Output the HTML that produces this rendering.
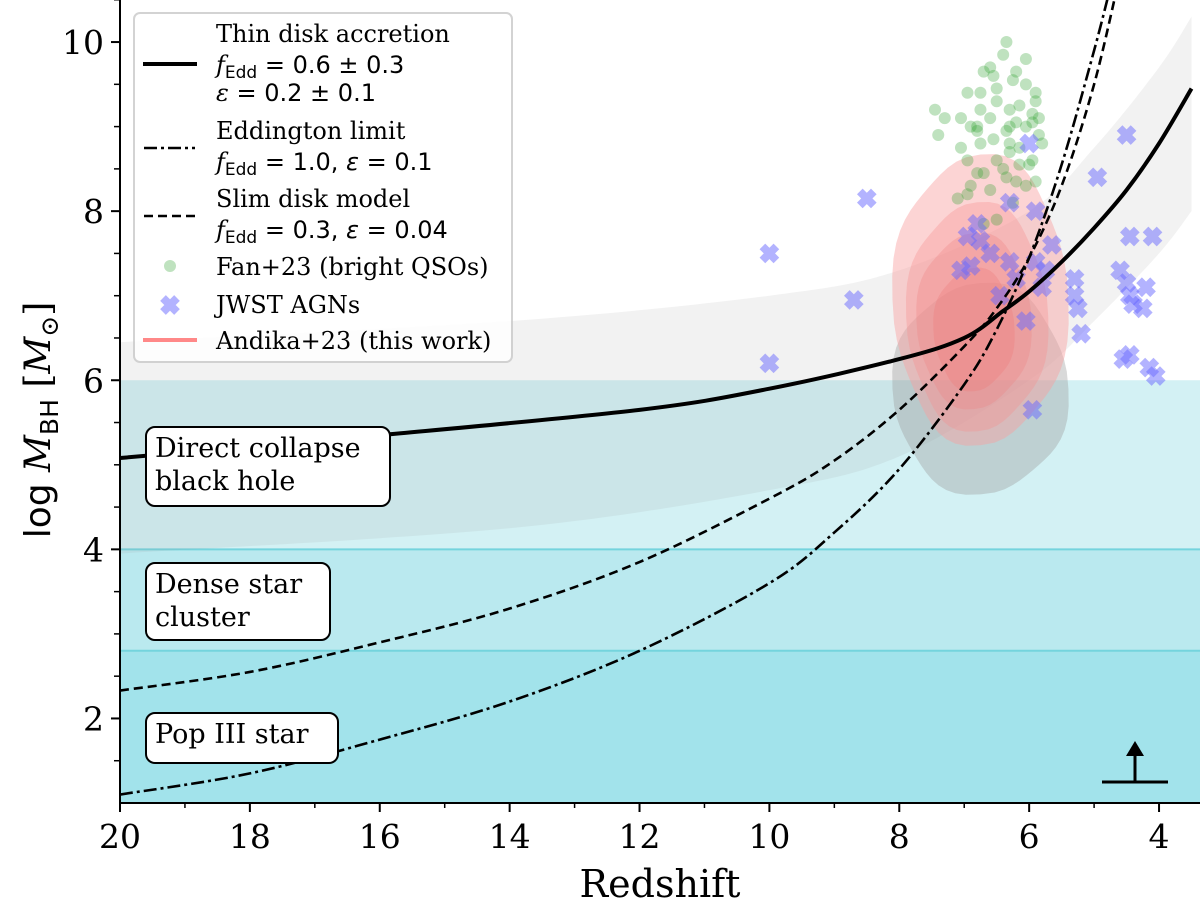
<!DOCTYPE html>
<html><head><meta charset="utf-8"><style>
body{margin:0;background:#fff;}
svg text{font-family:"DejaVu Serif","Liberation Serif",serif;}
</style></head><body>
<svg id="chart" width="1200" height="914" xmlns="http://www.w3.org/2000/svg">
<defs><clipPath id="clip"><rect x="120" y="0" width="1080" height="803"/></clipPath></defs>
<g id="plot" clip-path="url(#clip)"></g>
<g id="axes"></g>
</svg>
<script>
const NS="http://www.w3.org/2000/svg";
const xTicks=[20,18,16,14,12,10,8,6,4];
const yTicks=[2,4,6,8,10];
const thinZ=[20,16,12,10,8,7,6.4,6,5.5,5,4.5,4,3.5];
const thinM=[5.08,5.35,5.65,5.9,6.25,6.5,6.82,7.05,7.4,7.8,8.25,8.8,9.45];
const eddZ=[20,18,16,14,12,10,9,8,7,6.5,6,5.5,5,4.7];
const eddM=[1.1,1.35,1.75,2.2,2.8,3.6,4.2,4.95,5.95,6.6,7.45,8.55,9.9,10.8];
const slimZ=[20,18,16,14,12,10,9,8,7,6.5,6,5.5,5,4.6];
const slimM=[2.33,2.55,2.9,3.3,3.85,4.6,5.05,5.65,6.4,6.85,7.45,8.3,9.5,10.8];
const bandZ=[20,14,10,8,6,5,4,3.5];
const bandHi=[6.45,6.7,7.0,7.3,8.0,8.75,9.7,10.3];
const bandLo=[3.95,4.25,4.7,5.1,6.0,6.7,7.5,8.0];
const fanZ=[6.35,6.05,6.55,6.25,5.9,6.75,6.5,6.15,6.3,5.95,6.6,6.8,6.9,6.35,6.2,6.05,6.55,5.85,5.8,6.75,7.05,6.95,6.5,6.3,6.15,5.95,6.7,6.8,6.4,6.2,6.05,6.6,5.9,6.95,7.1,7.45,7.3,7.4,7.05,6.95,6.4,6.2,6.05,6.7,6.5,5.9,6.75,6.3,6.15,5.95,6.6,6.8,6.35,6.9,6.25,6.7,6.5,6.0,6.3,5.85];
const fanM=[10.0,9.8,9.6,9.55,9.4,9.4,9.3,9.25,9.2,9.15,9.1,9.0,9.0,8.95,9.05,9.0,8.85,8.9,8.8,8.8,8.75,8.6,8.6,8.7,8.55,8.6,8.45,8.45,8.5,8.35,8.3,8.25,8.35,8.2,8.15,9.2,9.1,8.9,9.1,9.4,9.85,9.65,9.5,9.65,9.45,9.3,9.2,9.0,8.75,9.05,9.7,8.95,8.4,8.3,8.1,7.85,7.9,8.55,8.8,9.1];
const jwZ=[10.0,10.0,8.7,8.5,7.05,6.95,6.8,6.75,6.6,6.3,6.2,6.0,6.3,6.05,5.9,5.75,5.65,5.9,5.8,5.95,5.3,5.3,5.25,5.2,4.95,4.5,4.45,4.1,4.6,4.5,4.45,4.4,4.2,4.25,4.55,4.45,4.15,4.05,6.9,6.45];
const jwM=[7.5,6.2,6.95,8.15,7.3,7.7,7.85,7.65,7.5,7.4,7.2,8.8,8.1,6.7,7.4,7.3,7.6,8.0,7.1,5.65,7.2,7.0,6.85,6.55,8.4,8.9,7.7,7.7,7.3,7.15,7.0,6.9,7.1,6.85,6.25,6.3,6.15,6.05,7.35,7.0];
const X=z=>120+(20-z)*64.94;
const Y=m=>803-(m-1)*84.55;
const plot=document.getElementById('plot'),axes=document.getElementById('axes');
function mk(tag,attrs,parent){const e=document.createElementNS(NS,tag);for(const k in attrs)e.setAttribute(k,attrs[k]);(parent||plot).appendChild(e);return e;}
function smooth(pts,start){let d=start?'M'+pts[0][0]+','+pts[0][1]:'L'+pts[0][0]+','+pts[0][1];for(let i=0;i<pts.length-1;i++){const p0=pts[Math.max(i-1,0)],p1=pts[i],p2=pts[i+1],p3=pts[Math.min(i+2,pts.length-1)];const c1=[p1[0]+(p2[0]-p0[0])/6,p1[1]+(p2[1]-p0[1])/6],c2=[p2[0]-(p3[0]-p1[0])/6,p2[1]-(p3[1]-p1[1])/6];d+=`C${c1[0]},${c1[1]} ${c2[0]},${c2[1]} ${p2[0]},${p2[1]}`;}return d;}
const r1=mk('rect',{x:120,y:Y(6),width:1080,height:Y(4)-Y(6),fill:'#d3f1f4'});


const r2=mk('rect',{x:120,y:Y(4),width:1080,height:Y(2.8)-Y(4),fill:'#bae9ef'});


const r3=mk('rect',{x:120,y:Y(2.8),width:1080,height:Y(1)-Y(2.8),fill:'#a2e3eb'});


[4,2.8].forEach(v=>mk('line',{x1:120,x2:1200,y1:Y(v),y2:Y(v),stroke:'#74d4dd','stroke-width':2}));
const hiPts=bandZ.map((z,i)=>[X(z),Y(bandHi[i])]);
const loPts=bandZ.map((z,i)=>[X(z),Y(bandLo[i])]).reverse();
const band=mk('path',{d:smooth(hiPts,true)+smooth(loPts,false)+'Z',fill:'#999',opacity:0.13});


function blob(cz,cm,rz,rm,fill,op){let d='';for(let a=0;a<=360;a+=6){const t=a*Math.PI/180;const c=Math.cos(t),s=Math.sin(t);const w=1+0.05*Math.sin(4*t+1);const x=X(cz+rz*w*Math.sign(c)*Math.pow(Math.abs(c),0.8)),y=Y(cm+rm*w*Math.sign(s)*Math.pow(Math.abs(s),0.8));d+=(a?'L':'M')+x+','+y;}return mk('path',{d:d+'Z',fill:fill,opacity:op});}
const g1=blob(6.75,5.9,1.3,1.2,'#9a9a9a',0.38);
const c1=blob(6.75,6.95,1.3,1.65,'#f9a0a0',0.45);
const c2=blob(6.8,6.75,1.05,1.3,'#f59090',0.35);
const c3=blob(6.85,6.7,0.85,1.0,'#f08080',0.3);
const c4=blob(6.85,6.6,0.6,0.7,'#ee7777',0.3);
fanZ.forEach((z,i)=>{const c=mk('circle',{cx:X(z),cy:Y(fanM[i]),r:6,fill:'#2ca02c',opacity:0.3});

});
jwZ.forEach((z,i)=>{const x=X(z),y=Y(jwM[i]);const p=mk('path',{d:`M${x-7},${y-7}L${x+7},${y+7}M${x+7},${y-7}L${x-7},${y+7}`,stroke:'#6a6aff','stroke-width':8,opacity:0.5});

});
function line(zs,ms,dash,name,w){const p=mk('path',{d:smooth(zs.map((z,i)=>[X(z),Y(ms[i])]),true),fill:'none',stroke:'#000','stroke-width':w,'stroke-dasharray':dash,'stroke-linejoin':'round'});}
line(slimZ,slimM,'9,5','slim-disk-curve',2.6);
line(eddZ,eddM,'13,4,3,4','eddington-curve',2.6);
line(thinZ,thinM,'none','thin-disk-curve',4);
function box(x,y,w,h,lines,name){const g=mk('g',{});mk('rect',{x:x,y:y,width:w,height:h,rx:9,fill:'#fff',stroke:'#000','stroke-width':2},g);lines.forEach((t,i)=>{const tx=mk('text',{x:x+9,y:y+30+i*33,'font-size':27},g);tx.textContent=t;});}
box(146,427,244,79,['Direct collapse','black hole'],'dcbh-label');
box(146,563,184,77,['Dense star','cluster'],'dense-cluster-label');
box(146,713,192,50,['Pop III star'],'pop3-label');
const ll=mk('path',{d:'M1102,782H1168M1135,782V752',stroke:'#000','stroke-width':3,fill:'none'});
mk('path',{d:'M1126,756L1135,741L1144,756Z',fill:'#000'});
const fr=mk('path',{d:'M120,0V803H1200',stroke:'#000','stroke-width':2,fill:'none'},axes);
xTicks.forEach(z=>{mk('line',{x1:X(z),x2:X(z),y1:803,y2:812,stroke:'#000','stroke-width':2},axes);const t=mk('text',{x:X(z),y:848,'font-size':33,'text-anchor':'middle'},axes);t.textContent=z;});
for(let z=19;z>=3.5;z-=2){mk('line',{x1:X(z),x2:X(z),y1:803,y2:808,stroke:'#000','stroke-width':1.5},axes);}
yTicks.forEach(m=>{mk('line',{x1:111,x2:120,y1:Y(m),y2:Y(m),stroke:'#000','stroke-width':2},axes);const t=mk('text',{x:104,y:Y(m)+12,'font-size':33,'text-anchor':'end'},axes);t.textContent=m;});
for(let m=1.5;m<=10.5;m+=0.5){if(m%2)mk('line',{x1:114,x2:120,y1:Y(m),y2:Y(m),stroke:'#000','stroke-width':1.5},axes);}
const xl=mk('text',{x:660,y:897,'font-size':38,'text-anchor':'middle'},axes);xl.textContent='Redshift';
const yl=mk('text',{transform:'translate(50,420) rotate(-90)','font-size':36,'text-anchor':'middle'},axes);
yl.innerHTML='<tspan font-family="DejaVu Sans">log </tspan><tspan font-style="italic">M</tspan><tspan font-size="25" dy="8" font-family="DejaVu Sans">BH</tspan><tspan dy="-8"> [</tspan><tspan font-style="italic">M</tspan><tspan font-size="25" dy="8">⊙</tspan><tspan dy="-8">]</tspan>';
const lg=mk('g',{},axes);
mk('rect',{x:134,y:13,width:378,height:349,rx:6,fill:'#fff',opacity:0.85,stroke:'#ccc','stroke-width':2},lg);
function lt(x,y,html,name){const t=mk('text',{x:x,y:y,'font-size':24},lg);t.innerHTML=html;}
const sub=v=>`<tspan font-style="italic">f</tspan><tspan font-size="17" dy="5" font-family="DejaVu Sans">Edd</tspan><tspan dy="-5" font-family="DejaVu Sans"> = ${v}</tspan>`;
mk('line',{x1:143,x2:197,y1:64,y2:64,stroke:'#000','stroke-width':4},lg);
lt(216,42,'Thin disk accretion','legend-thin-title');lt(216,73,sub('0.6 ± 0.3'),'legend-thin-f');lt(216,101,'<tspan font-style="italic">ε</tspan><tspan font-family="DejaVu Sans"> = 0.2 ± 0.1</tspan>','legend-thin-eps');
mk('line',{x1:144,x2:195,y1:148,y2:148,stroke:'#000','stroke-width':2.6,'stroke-dasharray':'13,4,3,4'},lg);
lt(216,139,'Eddington limit','legend-edd-title');lt(216,170,sub('1.0, <tspan font-style="italic">ε</tspan> = 0.1'),'legend-edd-f');
mk('line',{x1:144,x2:195,y1:216,y2:216,stroke:'#000','stroke-width':2.6,'stroke-dasharray':'9,5'},lg);
lt(216,207,'Slim disk model','legend-slim-title');lt(216,238,sub('0.3, <tspan font-style="italic">ε</tspan> = 0.04'),'legend-slim-f');
mk('circle',{cx:170,cy:266,r:6,fill:'#2ca02c',opacity:0.3},lg);lt(216,275,'Fan+23 (bright QSOs)','legend-fan');
mk('path',{d:'M163,298L177,312M177,298L163,312',stroke:'#6a6aff','stroke-width':8,opacity:0.5},lg);lt(216,313,'JWST AGNs','legend-jwst');
mk('line',{x1:143,x2:197,y1:340,y2:340,stroke:'#f88','stroke-width':4},lg);lt(216,349,'Andika+23 (this work)','legend-andika');
</script>
</body></html>
